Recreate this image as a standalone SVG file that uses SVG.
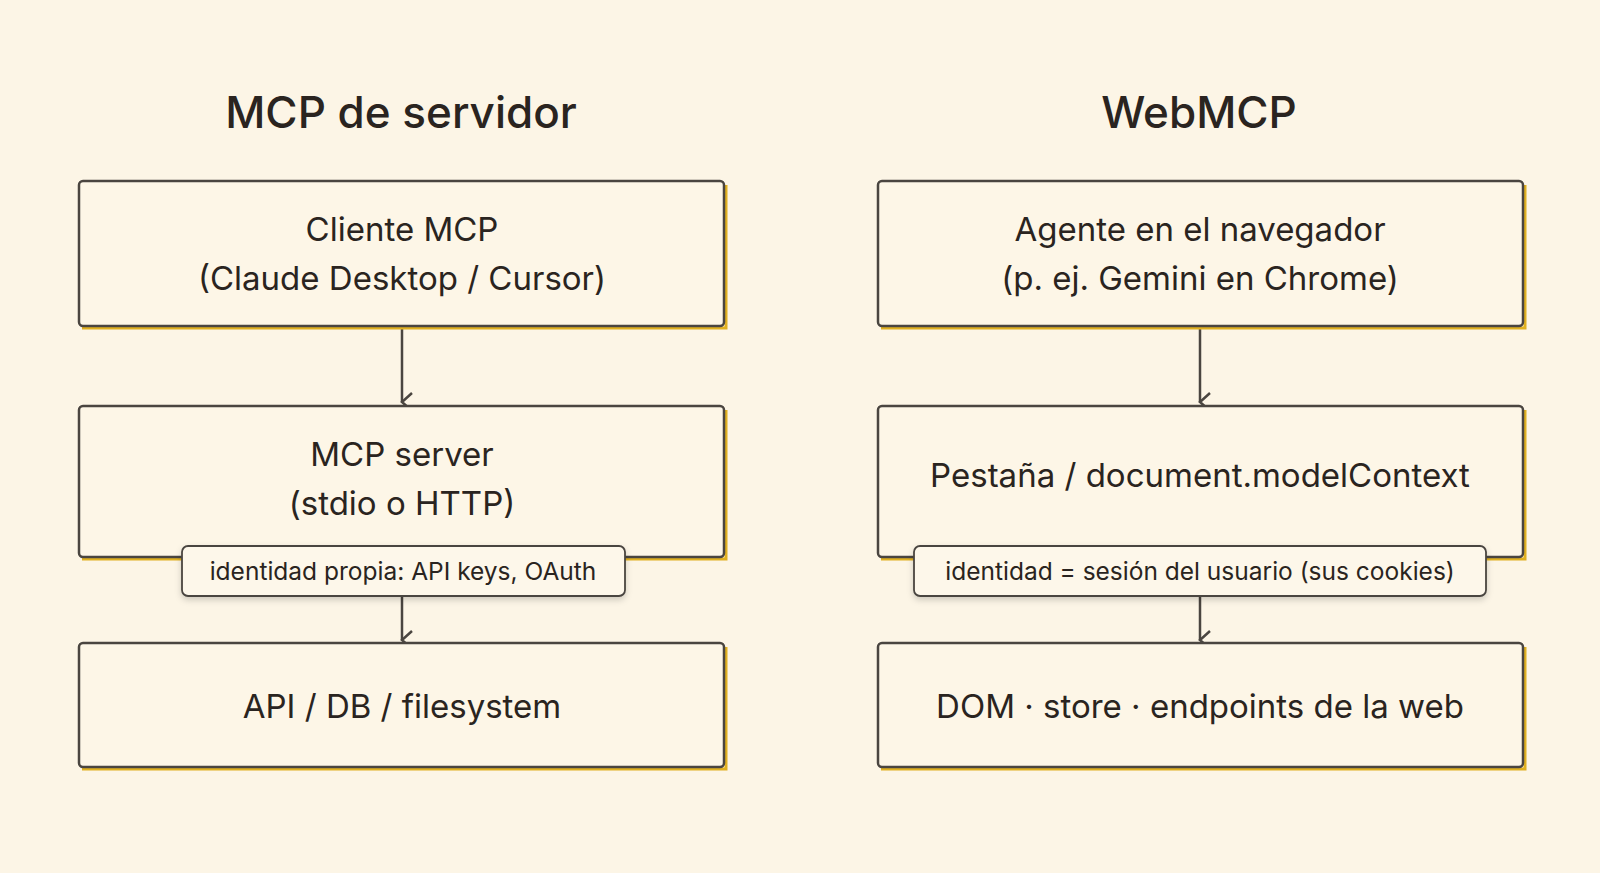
<svg xmlns="http://www.w3.org/2000/svg" width="1600" height="873" viewBox="0 0 1600 873">
<defs>
<style>
text{font-family:Inter,"Noto Sans",sans-serif;fill:#2a2420;text-anchor:middle}
.t{font-size:44px;font-weight:500}
.b{font-size:33px}
.l{font-size:24.5px}
.box{fill:#fdf6e7;stroke:#4a4540;stroke-width:2.5}
.sh{fill:none;stroke:#e0b020;stroke-width:3}
.lab{fill:#fdf7ea;stroke:#4a4540;stroke-width:1.8}
.c{stroke:#4a4540;stroke-width:2.5;fill:none}
</style>
<filter id="ds" x="-10%" y="-30%" width="120%" height="170%"><feDropShadow dx="0" dy="3" stdDeviation="3" flood-opacity="0.18"/></filter>
<marker id="a" viewBox="0 0 20 20" refX="10" refY="18" markerWidth="20" markerHeight="20" markerUnits="userSpaceOnUse" orient="auto"><path d="M1,8 L10,18 L19,8" class="c"/></marker>
</defs>
<rect width="1600" height="873" fill="#fcf5e6"/>
<text class="t" x="401" y="128">MCP de servidor</text>
<text class="t" x="1199" y="128">WebMCP</text>
<g id="connectors">
<path class="c" d="M402,321 V402" marker-end="url(#a)"/>
<path class="c" d="M402,546 V640" marker-end="url(#a)"/>
<path class="c" d="M1200,321 V402" marker-end="url(#a)"/>
<path class="c" d="M1200,546 V640" marker-end="url(#a)"/>
</g>
<g id="n1"><path class="sh" d="M82,328 H726 V185"/><rect class="box" x="79" y="181" width="645" height="145" rx="4"/><text class="b" x="402" y="241">Cliente MCP</text><text class="b" x="402" y="290">(Claude Desktop / Cursor)</text></g>
<g id="n2"><path class="sh" d="M82,559 H726 V410"/><rect class="box" x="79" y="406" width="645" height="151" rx="4"/><text class="b" x="402" y="466">MCP server</text><text class="b" x="402" y="515">(stdio o HTTP)</text></g>
<g id="n3"><path class="sh" d="M82,769 H726 V647"/><rect class="box" x="79" y="643" width="645" height="124" rx="4"/><text class="b" x="402" y="718">API / DB / filesystem</text></g>
<g id="n4"><path class="sh" d="M881,328 H1525 V185"/><rect class="box" x="878" y="181" width="645" height="145" rx="4"/><text class="b" x="1200" y="241">Agente en el navegador</text><text class="b" x="1200" y="290">(p. ej. Gemini en Chrome)</text></g>
<g id="n5"><path class="sh" d="M881,559 H1525 V410"/><rect class="box" x="878" y="406" width="645" height="151" rx="4"/><text class="b" x="1200" y="487">Pestaña / document.modelContext</text></g>
<g id="n6"><path class="sh" d="M881,769 H1525 V647"/><rect class="box" x="878" y="643" width="645" height="124" rx="4"/><text class="b" x="1200" y="718">DOM · store · endpoints de la web</text></g>
<g id="l1"><rect class="lab" filter="url(#ds)" x="182" y="546" width="443" height="50" rx="6"/><text class="l" x="403" y="580">identidad propia: API keys, OAuth</text></g>
<g id="l2"><rect class="lab" filter="url(#ds)" x="914" y="546" width="572" height="50" rx="6"/><text class="l" x="1200" y="580">identidad = sesión del usuario (sus cookies)</text></g>
</svg>
